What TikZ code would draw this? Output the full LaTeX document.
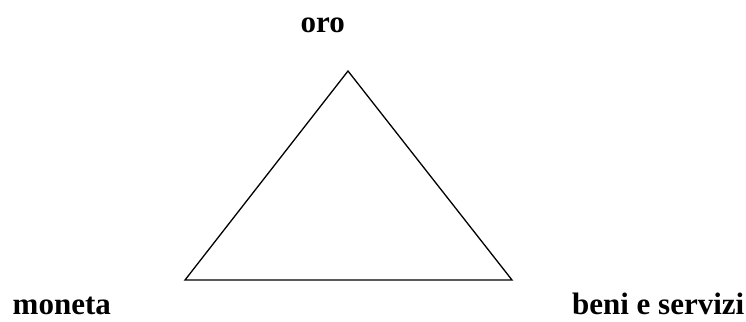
\documentclass[tikz,border=0pt]{standalone}
\usepackage{fontspec}
\setmainfont{Liberation Serif}
\begin{document}
\begin{tikzpicture}[x=1pt,y=-1pt,
  lbl/.style={inner sep=0pt,font=\fontsize{31}{36}\selectfont\bfseries},
  edge/.style={line width=1.3pt,line join=miter}]
\useasboundingbox (0,0) rectangle (746,321);
\coordinate (top) at (348,71);
\coordinate (bl) at (185,280);
\coordinate (br) at (512,280);
\draw[edge] (top) -- (bl) -- (br) -- cycle;
\node[lbl,anchor=base west] (oro) at (300.5,32.5) {oro};
\node[lbl,anchor=base west] (moneta) at (12.5,314) {moneta};
\node[lbl,anchor=base east] (beni) at (744.5,314) {beni e servizi};
\end{tikzpicture}
\end{document}
